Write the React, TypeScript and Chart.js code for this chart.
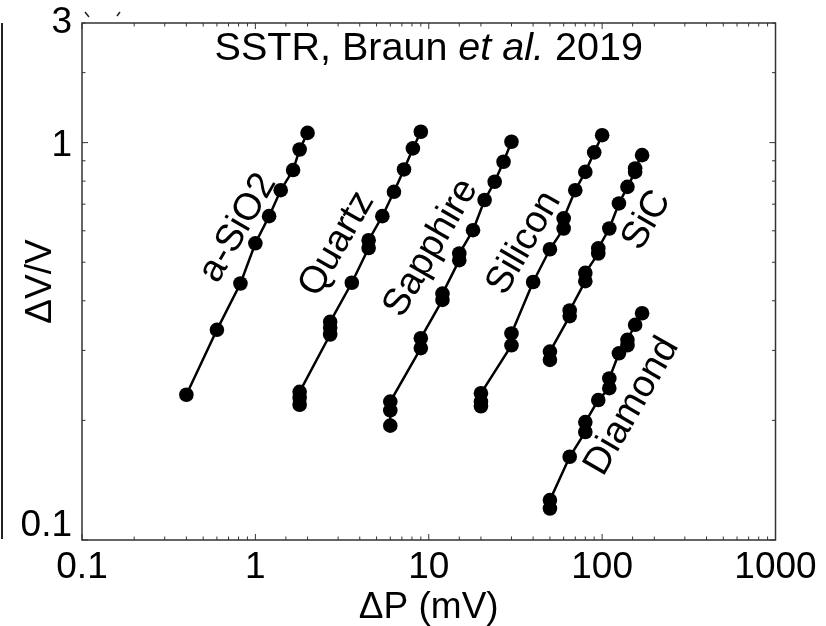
import React, { useEffect, useRef } from "react";
import { Chart, registerables } from "chart.js";

Chart.register(...registerables);

const FONT = '"Liberation Sans", Arial, Helvetica, sans-serif';

// ---- data (ΔP in mV, ΔV/V) ----
const aSiO2X = [0.4, 0.6, 0.82, 1.0, 1.2, 1.4, 1.65, 1.8, 2.0];
const aSiO2Y = [0.232, 0.338, 0.442, 0.558, 0.653, 0.759, 0.853, 0.961, 1.058];

const quartzX = [1.8, 1.8, 1.8, 2.7, 2.7, 2.7, 3.6, 4.5, 4.5, 5.4, 6.3, 7.2, 8.1, 9.0];
const quartzY = [0.219, 0.228, 0.236, 0.329, 0.342, 0.354, 0.444, 0.543, 0.568, 0.653, 0.752, 0.856, 0.967, 1.065];

const sapphireX = [6, 6, 6, 9, 9, 12, 12, 15, 15, 18, 21, 24, 27, 30];
const sapphireY = [0.194, 0.212, 0.223, 0.304, 0.322, 0.402, 0.417, 0.506, 0.526, 0.602, 0.717, 0.797, 0.895, 1.005];

const siliconX = [20, 20, 20, 30, 30, 40, 50, 60, 60, 70, 80, 90, 100];
const siliconY = [0.217, 0.223, 0.234, 0.309, 0.331, 0.446, 0.539, 0.608, 0.645, 0.759, 0.844, 0.945, 1.044];

const sicX = [50, 50, 65, 65, 80, 80, 95, 95, 110, 125, 140, 155, 155, 170];
const sicY = [0.284, 0.298, 0.366, 0.378, 0.448, 0.47, 0.526, 0.542, 0.608, 0.703, 0.774, 0.844, 0.861, 0.93];

const diamondX = [50, 50, 65, 80, 80, 95, 110, 110, 125, 140, 140, 155, 170];
const diamondY = [0.12, 0.126, 0.162, 0.187, 0.198, 0.225, 0.241, 0.255, 0.295, 0.309, 0.319, 0.348, 0.372];

// series labels and their (data-space) centres
const seriesNames = ["a-SiO2", "Quartz", "Sapphire", "Silicon", "SiC", "Diamond"];
const labelX = [0.794, 2.95, 10.3, 35.4, 181, 148.6];
const labelY = [0.61, 0.556, 0.543, 0.559, 0.638, 0.217];

// axes
const xMin = 0.1;
const xMax = 1000;
const yMin = 0.1;
const yMax = 2;
const xTickValues = [0.1, 1, 10, 100, 1000];
const xTickLabels = ["0.1", "1", "10", "100", "1000"];
const yTickValues = [0.1, 1, 2];
const yTickLabels = ["0.1", "1", "3"];

const titleParts = [
  { text: "SSTR, Braun ", italic: false },
  { text: "et al.", italic: true },
  { text: " 2019", italic: false },
];

const isDecade = (v: number) => {
  const l = Math.log10(v);
  return Math.abs(l - Math.round(l)) < 1e-6;
};

const near = (a: number, b: number) => Math.abs(a - b) / b < 1e-6;

const labelFor = (v: number, vals: number[], labels: string[]) => {
  for (let i = 0; i < vals.length; i++) {
    if (near(v, vals[i])) return labels[i];
  }
  return "";
};

const zip = (xs: number[], ys: number[]) => xs.map((x, i) => ({ x, y: ys[i] }));

const decorPlugin = {
  id: "decor",
  afterDraw(chart: any) {
    const { ctx, chartArea: a, scales } = chart;
    const xs = scales.x;
    const ys = scales.y;
    ctx.save();
    // frame
    ctx.strokeStyle = "#333";
    ctx.lineWidth = 1.5;
    ctx.strokeRect(a.left, a.top, a.right - a.left, a.bottom - a.top);
    // inward ticks on all four sides
    ctx.lineWidth = 1;
    ctx.beginPath();
    for (const t of xs.ticks) {
      const p = xs.getPixelForValue(t.value);
      if (p < a.left - 0.5 || p > a.right + 0.5) continue;
      const len = isDecade(t.value) ? 6 : 3.5;
      ctx.moveTo(p, a.bottom);
      ctx.lineTo(p, a.bottom - len);
      ctx.moveTo(p, a.top);
      ctx.lineTo(p, a.top + len);
    }
    for (const t of ys.ticks) {
      const p = ys.getPixelForValue(t.value);
      if (p < a.top - 0.5 || p > a.bottom + 0.5) continue;
      const len = isDecade(t.value) ? 6 : 3.5;
      ctx.moveTo(a.left, p);
      ctx.lineTo(a.left + len, p);
      ctx.moveTo(a.right, p);
      ctx.lineTo(a.right - len, p);
    }
    ctx.stroke();

    // border line of the neighbouring panel at the far left
    ctx.strokeStyle = "#222";
    ctx.lineWidth = 2;
    ctx.beginPath();
    ctx.moveTo(2, a.top);
    ctx.lineTo(2, a.bottom - 1);
    ctx.stroke();

    // small cropped marks near the top-left
    ctx.lineWidth = 1.5;
    ctx.beginPath();
    ctx.moveTo(85, 12);
    ctx.lineTo(89, 17);
    ctx.moveTo(120, 12);
    ctx.lineTo(117, 16);
    ctx.stroke();

    // in-plot title with italic "et al."
    ctx.fillStyle = "#000";
    ctx.textBaseline = "alphabetic";
    ctx.textAlign = "left";
    const size = 38;
    const stretch = 1.04;
    let total = 0;
    const widths = titleParts.map((p) => {
      ctx.font = `${p.italic ? "italic " : ""}${size}px ${FONT}`;
      const w = ctx.measureText(p.text).width;
      total += w;
      return w;
    });
    const cx = (a.left + a.right) / 2;
    const baseY = a.top + 37;
    ctx.save();
    ctx.translate(cx, baseY);
    ctx.scale(stretch, 1);
    let x = -total / 2;
    titleParts.forEach((p, i) => {
      ctx.font = `${p.italic ? "italic " : ""}${size}px ${FONT}`;
      ctx.fillText(p.text, x, 0);
      x += widths[i];
    });
    ctx.restore();

    // rotated series labels
    ctx.font = `38px ${FONT}`;
    ctx.textAlign = "center";
    ctx.textBaseline = "middle";
    seriesNames.forEach((name, i) => {
      const px = xs.getPixelForValue(labelX[i]);
      const py = ys.getPixelForValue(labelY[i]);
      ctx.save();
      ctx.translate(px, py);
      ctx.rotate((-60 * Math.PI) / 180);
      ctx.fillText(name, 0, 0);
      ctx.restore();
    });
    ctx.restore();
  },
};

export default function App() {
  const canvasRef = useRef<HTMLCanvasElement | null>(null);

  useEffect(() => {
    const canvas = canvasRef.current;
    if (!canvas) return;
    const series = [
      zip(aSiO2X, aSiO2Y),
      zip(quartzX, quartzY),
      zip(sapphireX, sapphireY),
      zip(siliconX, siliconY),
      zip(sicX, sicY),
      zip(diamondX, diamondY),
    ];
    const chart = new Chart(canvas, {
      type: "scatter",
      data: {
        datasets: series.map((d, i) => ({
          label: seriesNames[i],
          data: d,
          showLine: true,
          borderColor: "#000",
          borderWidth: 2.5,
          backgroundColor: "#000",
          pointBackgroundColor: "#000",
          pointBorderColor: "#000",
          pointBorderWidth: 0,
          pointRadius: 7.3,
          tension: 0,
        })),
      },
      options: {
        responsive: false,
        animation: false,
        devicePixelRatio: 1,
        layout: { padding: { top: 23, right: 50.5, left: 0, bottom: 0 } },
        plugins: {
          legend: { display: false },
          tooltip: { enabled: false },
          title: { display: false },
        },
        scales: {
          x: {
            type: "logarithmic",
            min: xMin,
            max: xMax,
            grid: { display: false, drawTicks: false },
            border: { display: false },
            afterFit: (s: any) => {
              s.height = 86;
            },
            ticks: {
              autoSkip: false,
              maxRotation: 0,
              padding: 6,
              color: "#000",
              font: { family: FONT, size: 37 },
              callback: (v: any) => labelFor(Number(v), xTickValues, xTickLabels),
            },
            title: {
              display: true,
              text: "ΔP (mV)",
              color: "#000",
              font: { family: FONT, size: 37, lineHeight: 1 },
              padding: { top: 0, bottom: 0 },
            },
          },
          y: {
            type: "logarithmic",
            min: yMin,
            max: yMax,
            grid: { display: false, drawTicks: false },
            border: { display: false },
            afterFit: (s: any) => {
              s.width = 82;
            },
            ticks: {
              autoSkip: false,
              padding: 10,
              color: "#000",
              font: (c: any) => {
                const v = c && c.tick ? c.tick.value : 0;
                if (near(v, 0.1)) return { family: FONT, size: 37, lineHeight: 28 / 37 };
                if (near(v, 1)) return { family: FONT, size: 37, lineHeight: 7 / 37 };
                return { family: FONT, size: 37, lineHeight: 0.6 };
              },
              callback: (v: any) => {
                const n = Number(v);
                const s = labelFor(n, yTickValues, yTickLabels);
                if (near(n, 0.1)) return [s, ""];
                if (near(n, 1)) return ["", s];
                return s;
              },
            },
            title: {
              display: true,
              text: "ΔV/V",
              color: "#000",
              font: { family: FONT, size: 37, lineHeight: 1 },
              padding: { top: 22, bottom: 0 },
            },
          },
        },
      },
      plugins: [decorPlugin],
    });
    return () => chart.destroy();
  }, []);

  return (
    <div style={{ position: "fixed", left: 0, top: 0, width: 826, height: 626, background: "#fff" }}>
      <canvas ref={canvasRef} width={826} height={626} style={{ display: "block" }} />
    </div>
  );
}
